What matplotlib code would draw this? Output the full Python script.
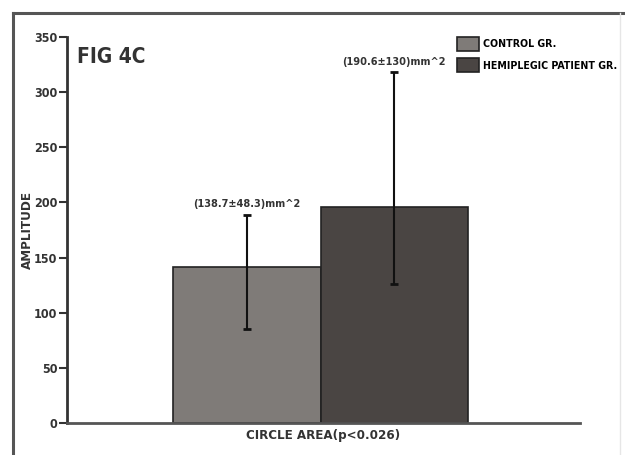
import numpy as np
import matplotlib.pyplot as plt
from matplotlib.lines import Line2D

plt.rcParams['font.family'] = ['DejaVu Sans Condensed', 'Liberation Sans Narrow', 'DejaVu Sans']
plt.rcParams['font.stretch'] = 'condensed'

# datos
groups = ['CONTROL GR.', 'HEMIPLEGIC PATIENT GR.']
means = [141, 196]
err_low = [56, 70]
err_high = [48, 122]
labels = ['(138.7±48.3)mm^2', '(190.6±130)mm^2']
yticks = [0, 50, 100, 150, 200, 250, 300, 350]
colors = ['#7f7b78', '#4a4543']

fig = plt.figure(figsize=(6.25, 4.55), dpi=100)

# marco exterior: arriba e izquierda oscuro, derecha tenue
W, H = 625, 455
fig.add_artist(Line2D([13 / W, 13 / W], [0, 1 - 13 / H], transform=fig.transFigure,
                      color='#555555', linewidth=2.2))
fig.add_artist(Line2D([13 / W, 1], [1 - 13 / H, 1 - 13 / H], transform=fig.transFigure,
                      color='#555555', linewidth=2.2))
fig.add_artist(Line2D([620 / W, 620 / W], [0, 1 - 13 / H], transform=fig.transFigure,
                      color='#e6e6e6', linewidth=1))

ax = fig.add_axes([67 / W, 32 / H, 513 / W, 386 / H])

x = np.arange(len(means))
bars = ax.bar(x, means, width=1.0, color=colors, edgecolor='#222222', linewidth=1.2)
ax.errorbar(x, means, yerr=[err_low, err_high], fmt='none', ecolor='#111111',
            elinewidth=1.5, capsize=3, capthick=2)

for xi, m, eh, lab in zip(x, means, err_high, labels):
    ax.text(xi, m + eh + 5, lab, ha='center', va='bottom', fontsize=7.8, fontweight='bold',
            color='#333333')

ax.set_xlim(-1.219, 2.259)
ax.set_ylim(0, 350)
ax.set_yticks(yticks)
ax.set_xticks([])
for s in ['top', 'right']:
    ax.spines[s].set_visible(False)
ax.spines['left'].set_linewidth(2)
ax.spines['bottom'].set_linewidth(2)
ax.spines['left'].set_color('#333333')
ax.spines['bottom'].set_color('#555555')
ax.tick_params(axis='y', length=6, width=1.5, labelsize=9, colors='#333333', pad=1)
for t in ax.get_yticklabels():
    t.set_fontweight('bold')

ax.set_xlabel('CIRCLE AREA(p<0.026)', fontsize=9.5, fontweight='bold', color='#333333',
              labelpad=4)
ax.set_ylabel('AMPLITUDE', fontsize=9.5, fontweight='bold', color='#333333', labelpad=0)

ax.text(0.02, 0.975, 'FIG 4C', transform=ax.transAxes, fontsize=15, fontweight='bold',
        color='#333333', va='top')

ax.legend(bars, groups, loc='upper left', bbox_to_anchor=(0.760, 1.0), frameon=False,
          borderpad=0, borderaxespad=0,
          prop={'weight': 'bold', 'size': 7.6}, handlelength=2.1,
          handleheight=1.6, handletextpad=0.35, labelspacing=0.75)

fig.savefig('out.png', dpi=100)
